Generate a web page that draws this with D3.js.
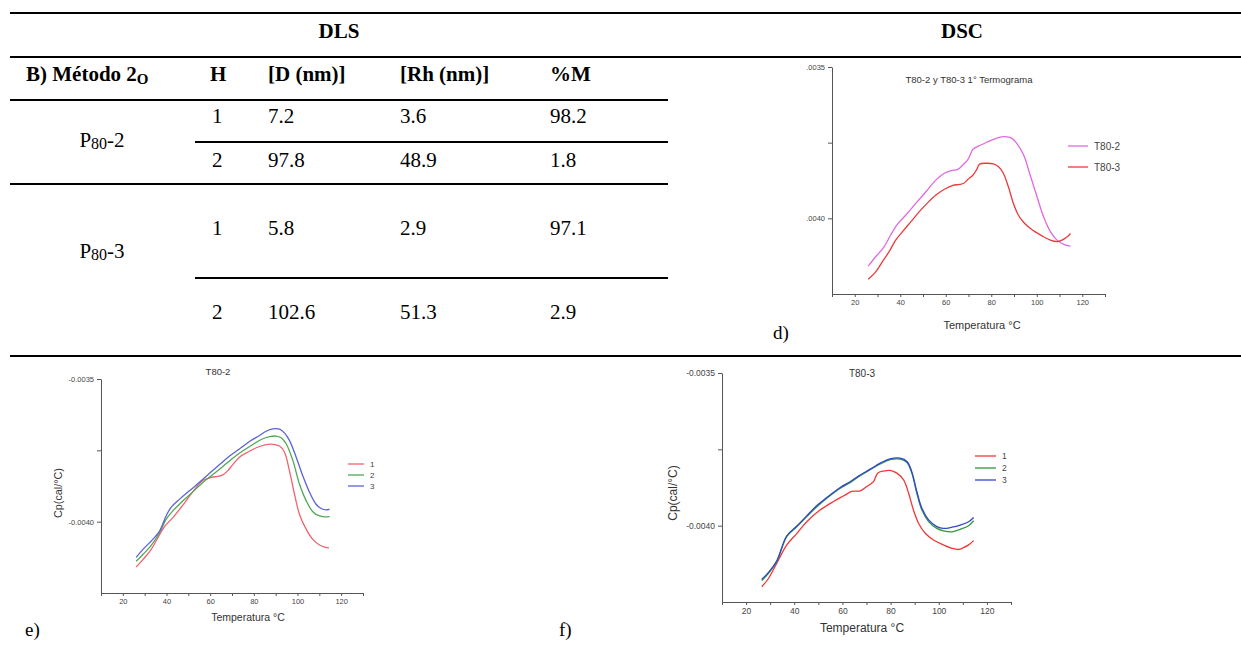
<!DOCTYPE html>
<html>
<head>
<meta charset="utf-8">
<script src="https://cdn.jsdelivr.net/npm/d3@7"></script>
<style>
  body { margin: 0; background: #fff; }
  svg { display: block; }
</style>
</head>
<body>
<div id="chart"></div>
<script>
// ---- table data (DLS) ----
const headers = ["B) Método 2", "H", "[D (nm)]", "[Rh (nm)]", "%M"];
const samples = ["2", "3"];            // P80-2, P80-3
const peakH = [1, 2, 1, 2];
const diamD = [7.2, 97.8, 5.8, 102.6];
const radiusRh = [3.6, 48.9, 2.9, 51.3];
const massM = [98.2, 1.8, 97.1, 2.9];

// ---- DSC curves: [temperatura °C, Cp cal/°C] ----
const dT80_2 = [[25.9,-0.004158],[29.2,-0.004127],[32.9,-0.004094],[35.8,-0.004055],[38.8,-0.004019],[42.5,-0.003989],[46.9,-0.003950],[51.3,-0.003912],[55.7,-0.003873],[59.4,-0.003851],[62.4,-0.003842],[65.3,-0.003838],[67.6,-0.003823],[69.8,-0.003805],[72.0,-0.003772],[75.7,-0.003757],[79.4,-0.003744],[83.1,-0.003733],[86.0,-0.003730],[89.0,-0.003735],[91.2,-0.003752],[94.2,-0.003790],[97.1,-0.003857],[100.1,-0.003928],[103.0,-0.003995],[106.0,-0.004044],[108.9,-0.004072],[111.9,-0.004086],[114.8,-0.004092]];
const dT80_3 = [[25.9,-0.004201],[29.2,-0.004177],[32.1,-0.004144],[35.1,-0.004110],[38.0,-0.004072],[41.0,-0.004044],[44.7,-0.004011],[48.4,-0.003978],[52.1,-0.003948],[55.7,-0.003923],[59.4,-0.003904],[63.1,-0.003891],[66.1,-0.003888],[67.9,-0.003884],[69.8,-0.003871],[72.0,-0.003857],[73.5,-0.003840],[74.9,-0.003821],[77.9,-0.003818],[80.9,-0.003820],[83.1,-0.003829],[85.3,-0.003851],[87.5,-0.003895],[89.7,-0.003950],[91.9,-0.003989],[94.2,-0.004013],[97.1,-0.004033],[100.1,-0.004048],[103.0,-0.004061],[106.0,-0.004072],[108.9,-0.004077],[111.1,-0.004072],[113.4,-0.004061],[114.8,-0.004050]];

const e1 = [[26.1,-0.004159],[29.2,-0.004133],[33.0,-0.004097],[36.5,-0.004050],[39.1,-0.004017],[42.9,-0.003986],[47.5,-0.003942],[52.1,-0.003895],[56.6,-0.003856],[60.5,-0.003845],[63.5,-0.003841],[65.8,-0.003836],[68.1,-0.003821],[70.4,-0.003800],[73.4,-0.003774],[77.3,-0.003756],[81.1,-0.003741],[85.6,-0.003730],[88.7,-0.003729],[91.8,-0.003735],[94.0,-0.003756],[96.3,-0.003821],[98.6,-0.003903],[100.9,-0.003974],[104.0,-0.004027],[107.0,-0.004062],[110.1,-0.004082],[112.4,-0.004089],[114.4,-0.004092]];
const e2 = [[26.1,-0.004139],[29.2,-0.004115],[33.0,-0.004083],[36.8,-0.004039],[39.8,-0.003992],[42.9,-0.003962],[46.7,-0.003933],[51.3,-0.003901],[55.9,-0.003868],[60.5,-0.003839],[65.0,-0.003812],[69.6,-0.003782],[74.2,-0.003756],[78.8,-0.003733],[83.4,-0.003712],[87.2,-0.003702],[90.2,-0.003700],[92.5,-0.003706],[94.8,-0.003727],[97.9,-0.003786],[100.9,-0.003868],[104.0,-0.003927],[107.0,-0.003965],[110.1,-0.003980],[112.4,-0.003983],[114.7,-0.003982]];
const e3 = [[26.1,-0.004125],[29.2,-0.004097],[33.0,-0.004068],[36.8,-0.004033],[39.8,-0.003980],[42.1,-0.003950],[46.0,-0.003921],[50.5,-0.003892],[55.1,-0.003862],[59.7,-0.003830],[64.3,-0.003800],[68.9,-0.003770],[73.4,-0.003745],[78.0,-0.003719],[82.6,-0.003698],[85.6,-0.003683],[89.5,-0.003674],[91.8,-0.003676],[94.0,-0.003689],[96.3,-0.003715],[99.4,-0.003774],[102.4,-0.003839],[105.5,-0.003897],[108.5,-0.003939],[110.8,-0.003954],[113.1,-0.003959],[114.7,-0.003956]];

const f1 = [[26.5,-0.004200],[29.3,-0.004173],[32.7,-0.004124],[36.9,-0.004063],[41.1,-0.004025],[45.2,-0.003987],[50.7,-0.003949],[56.3,-0.003921],[60.4,-0.003903],[63.9,-0.003888],[67.4,-0.003886],[70.1,-0.003872],[72.9,-0.003856],[74.6,-0.003828],[77.1,-0.003821],[79.8,-0.003819],[82.6,-0.003828],[85.4,-0.003850],[87.5,-0.003894],[89.5,-0.003949],[91.6,-0.003992],[94.4,-0.004025],[97.8,-0.004047],[102.0,-0.004063],[105.5,-0.004074],[108.2,-0.004078],[110.3,-0.004072],[112.4,-0.004063],[114.5,-0.004049]];
const f2 = [[26.5,-0.004180],[29.3,-0.004156],[32.7,-0.004118],[36.9,-0.004036],[41.1,-0.004003],[45.2,-0.003970],[49.4,-0.003938],[53.5,-0.003910],[59.1,-0.003877],[63.2,-0.003859],[67.4,-0.003836],[71.5,-0.003817],[75.7,-0.003798],[79.8,-0.003784],[84.0,-0.003782],[86.8,-0.003793],[88.8,-0.003828],[90.9,-0.003894],[93.0,-0.003949],[95.8,-0.003987],[99.2,-0.004009],[102.0,-0.004017],[105.5,-0.004020],[108.9,-0.004012],[112.4,-0.004000],[114.5,-0.003984]];
const f3 = [[26.5,-0.004176],[29.3,-0.004153],[32.7,-0.004116],[36.9,-0.004033],[41.1,-0.004001],[45.2,-0.003968],[49.4,-0.003934],[53.5,-0.003908],[59.1,-0.003875],[63.2,-0.003856],[67.4,-0.003834],[71.5,-0.003815],[75.7,-0.003795],[79.8,-0.003781],[84.0,-0.003779],[86.8,-0.003790],[88.8,-0.003823],[90.9,-0.003888],[93.0,-0.003943],[95.8,-0.003981],[99.2,-0.004003],[102.0,-0.004009],[105.5,-0.004005],[108.9,-0.003998],[112.4,-0.003987],[114.5,-0.003973]];

const tempTicks = [10, 20, 30, 40, 50, 60, 70, 80, 90, 100, 110, 120, 130];
const cpTicks = [-0.0035, -0.00375, -0.0040];

const W = 1241, H = 653;
const serif = "'Liberation Serif', 'Times New Roman', serif";
const sans = "'Liberation Sans', Arial, sans-serif";

const svg = d3.select("#chart").append("svg")
  .attr("width", W).attr("height", H);

// ---- table rules ----
const rules = [
  {y: 13, x1: 10, x2: W}, {y: 57, x1: 10, x2: W},
  {y: 100, x1: 10, x2: 668}, {y: 142, x1: 195, x2: 668},
  {y: 184, x1: 10, x2: 668}, {y: 278, x1: 195, x2: 668},
  {y: 356, x1: 10, x2: W}
];
svg.append("g").selectAll("line").data(rules).join("line")
  .attr("x1", d => d.x1).attr("x2", d => d.x2)
  .attr("y1", d => d.y).attr("y2", d => d.y)
  .attr("stroke", "#000").attr("stroke-width", 2.2);

svg.append("text").attr("x", 339).attr("y", 38).attr("text-anchor", "middle")
  .attr("font-family", serif).attr("font-size", 21).attr("font-weight", "bold").text("DLS");
svg.append("text").attr("x", 962).attr("y", 38).attr("text-anchor", "middle")
  .attr("font-family", serif).attr("font-size", 21).attr("font-weight", "bold").text("DSC");

const colX = [26, 210, 268, 400, 550];
const head = svg.append("g").attr("font-family", serif).attr("font-size", 21).attr("font-weight", "bold");
headers.forEach((h, i) => {
  const t = head.append("text").attr("x", colX[i]).attr("y", 81).text(h);
  if (i === 0) t.append("tspan").attr("font-size", 15).attr("dy", 3).text("O");
});

const rowY = [123, 167, 235, 319];
const body = svg.append("g").attr("font-family", serif).attr("font-size", 21);
const f1d = d3.format(".1f");
rowY.forEach((y, i) => {
  body.append("text").attr("x", colX[1] + 2).attr("y", y).text(peakH[i]);
  body.append("text").attr("x", colX[2]).attr("y", y).text(f1d(diamD[i]));
  body.append("text").attr("x", colX[3]).attr("y", y).text(f1d(radiusRh[i]));
  body.append("text").attr("x", colX[4]).attr("y", y).text(f1d(massM[i]));
});
const sampleY = [147, 258];
samples.forEach((s, i) => {
  const t = body.append("text").attr("x", 102).attr("y", sampleY[i]).attr("text-anchor", "middle");
  t.append("tspan").text("P");
  t.append("tspan").attr("font-size", 16).attr("dy", 2).text("80");
  t.append("tspan").attr("dy", -2).text("-" + s);
});

// ---- DSC charts ----
const charts = [
  {x0: 832, x1: 1105, yTop: 67, yBot: 294, neg: false, tickFs: 7.5,
   title: "T80-2 y T80-3 1° Termograma", tx: 969, ty: 83, tFs: 9.5,
   xt: [982, 329], xtFs: 11, yt: null,
   series: [{d: dT80_2, c: "#df6ae3", n: "T80-2"}, {d: dT80_3, c: "#ec3a3a", n: "T80-3"}],
   leg: {x: 1068, y: 146, dy: 21, len: 20, fs: 10},
   panel: "d)", px: 773, py: 339},
  {x0: 101, x1: 363, yTop: 379, yBot: 593, neg: true, tickFs: 7.5,
   title: "T80-2", tx: 218, ty: 375, tFs: 9.5,
   xt: [248, 621], xtFs: 10.5, yt: [58, 493], ytFs: 10.8,
   series: [{d: e1, c: "#f0636f", n: "1"}, {d: e2, c: "#4fa854", n: "2"}, {d: e3, c: "#5b63d6", n: "3"}],
   leg: {x: 348, y: 464, dy: 11, len: 16, fs: 8},
   panel: "e)", px: 25, py: 636},
  {x0: 722, x1: 1011, yTop: 373, yBot: 602, neg: true, tickFs: 8.5,
   title: "T80-3", tx: 862, ty: 377, tFs: 10,
   xt: [862, 632], xtFs: 12, yt: [673, 493], ytFs: 12,
   series: [{d: f1, c: "#f53535", n: "1"}, {d: f2, c: "#2f9a3a", n: "2"}, {d: f3, c: "#3444cc", n: "3"}],
   leg: {x: 975, y: 456, dy: 12, len: 21, fs: 8.5},
   panel: "f)", px: 559, py: 636}
];

charts.forEach(c => {
  const g = svg.append("g");
  const x = d3.scaleLinear().domain([10, 130]).range([c.x0, c.x1]);
  const y = d3.scaleLinear().domain([-0.00425, -0.0035]).range([c.yBot, c.yTop]);

  const xAxis = g.append("g").attr("transform", `translate(0,${c.yBot})`)
    .call(d3.axisBottom(x).tickValues(tempTicks).tickSize(3).tickSizeOuter(0).tickPadding(3)
      .tickFormat(v => (v % 20 === 0 && v >= 20 && v <= 120) ? v : ""));
  const yAxis = g.append("g").attr("transform", `translate(${c.x0},0)`)
    .call(d3.axisLeft(y).tickValues(cpTicks).tickSize(4).tickSizeOuter(0).tickPadding(3)
      .tickFormat(v => {
        if (Math.abs(v + 0.00375) < 1e-9) return "";
        return c.neg ? v.toFixed(4) : v.toFixed(4).replace("-0", "");
      }));
  [xAxis, yAxis].forEach(a => {
    a.select(".domain").attr("stroke", "#555");
    a.selectAll(".tick line").attr("stroke", "#555");
    a.selectAll("text").attr("fill", "#444").attr("font-family", sans).attr("font-size", c.tickFs);
  });

  const line = d3.line().x(d => x(d[0])).y(d => y(d[1])).curve(d3.curveCatmullRom.alpha(0.5));
  c.series.forEach(s => {
    g.append("path").datum(s.d).attr("d", line)
      .attr("fill", "none").attr("stroke", s.c).attr("stroke-width", 1.3);
  });

  c.series.forEach((s, i) => {
    const ly = c.leg.y + i * c.leg.dy;
    g.append("line").attr("x1", c.leg.x).attr("x2", c.leg.x + c.leg.len)
      .attr("y1", ly).attr("y2", ly).attr("stroke", s.c).attr("stroke-width", 1.3);
    g.append("text").attr("x", c.leg.x + c.leg.len + 6).attr("y", ly).attr("dy", "0.35em")
      .attr("font-family", sans).attr("font-size", c.leg.fs).attr("fill", "#444").text(s.n);
  });

  g.append("text").attr("x", c.tx).attr("y", c.ty).attr("text-anchor", "middle")
    .attr("font-family", sans).attr("font-size", c.tFs).attr("fill", "#333").text(c.title);
  g.append("text").attr("x", c.xt[0]).attr("y", c.xt[1]).attr("text-anchor", "middle")
    .attr("font-family", sans).attr("font-size", c.xtFs).attr("fill", "#333").text("Temperatura °C");
  if (c.yt) {
    g.append("text").attr("transform", `translate(${c.yt[0]},${c.yt[1]}) rotate(-90)`)
      .attr("text-anchor", "middle").attr("dy", "0.35em")
      .attr("font-family", sans).attr("font-size", c.ytFs).attr("fill", "#333").text("Cp(cal/°C)");
  }
  g.append("text").attr("x", c.px).attr("y", c.py)
    .attr("font-family", serif).attr("font-size", 19).text(c.panel);
});
</script>
</body>
</html>
